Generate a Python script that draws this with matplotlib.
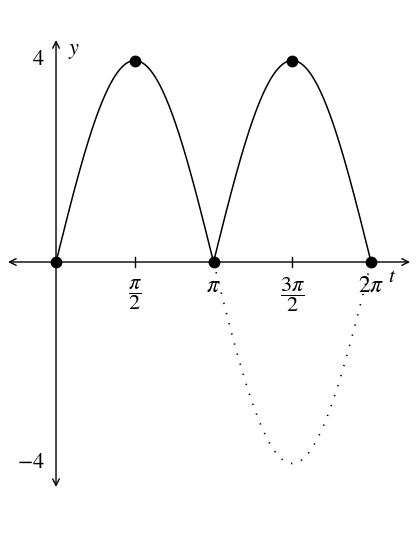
import numpy as np
import matplotlib.pyplot as plt

plt.rcParams['mathtext.fontset'] = 'stix'
plt.rcParams['font.family'] = 'Liberation Serif'

# function y = |A sin t|, dotted A sin t on [pi, 2pi]
A = 4
pts_t = [0, np.pi / 2, np.pi, 3 * np.pi / 2, 2 * np.pi]
pts_y = [0, 4, 0, 4, 0]
xtick_pos = [np.pi / 2, np.pi, 3 * np.pi / 2, 2 * np.pi]
xtick_lab = [r'$\dfrac{\pi}{2}$', r'$\pi$', r'$\dfrac{3\pi}{2}$', r'$2\pi$']
ytick_pos = [4, -4]
ytick_lab = [r'$4$', r'$-4$']

t = np.linspace(0, 2 * np.pi, 400)
t2 = np.linspace(np.pi, 2 * np.pi, 200)

fig = plt.figure(figsize=(4.18, 5.41), dpi=100)
ax = fig.add_axes([0, 0, 1, 1])
ax.set_xlim(-0.3556 * np.pi, 2.298 * np.pi)
ax.set_ylim(-5.538, 5.201)
ax.axis('off')

# axes with arrows
ax.annotate('', xy=(2.2476 * np.pi, 0), xytext=(-0.3048 * np.pi, 0),
            arrowprops=dict(arrowstyle='<->', lw=1, color='black',
                            shrinkA=0, shrinkB=0, mutation_scale=12))
ax.annotate('', xy=(0, 4.407), xytext=(0, -4.467),
            arrowprops=dict(arrowstyle='<->', lw=1, color='black',
                            shrinkA=0, shrinkB=0, mutation_scale=12))

ax.plot(t, np.abs(A * np.sin(t)), color='black', lw=1.1)
ax.plot(t2, A * np.sin(t2), color='black', lw=1.2, linestyle=(0, (0.8, 5.5)))
ax.plot(pts_t, pts_y, 'o', color='black', markersize=7.5, zorder=5)

# ticks
for x in xtick_pos[::2]:
    ax.plot([x, x], [-0.1, 0.1], color='black', lw=1)
for x, lab in zip(xtick_pos, xtick_lab):
    if 'frac' in lab:
        ax.text(x, -0.64, lab, ha='center', va='center', fontsize=16)
    else:
        ax.text(x, -0.6, lab, ha='center', va='baseline', fontsize=17)
for y, lab in zip(ytick_pos, ytick_lab):
    ax.text(-0.22, y, lab, ha='right', va='center', fontsize=16)

ax.text(0.24, 4.17, r'$y$', ha='left', va='center', fontsize=16)
ax.text(2.108 * np.pi, -0.3, r'$t$', ha='left', va='center', fontsize=15)

plt.savefig('out.png', dpi=100)
